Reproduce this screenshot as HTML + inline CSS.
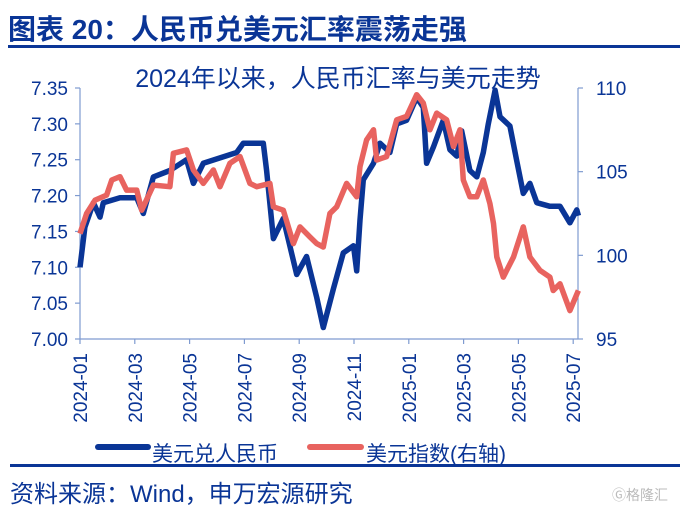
<!DOCTYPE html>
<html><head><meta charset="utf-8"><style>
body{margin:0;width:685px;height:513px;background:#fff;overflow:hidden;font-family:"Liberation Sans","Noto Sans CJK SC",sans-serif;}
</style></head><body>
<svg width="685" height="513" xmlns="http://www.w3.org/2000/svg">
<text x="8" y="39" font-size="28" font-weight="bold" fill="#0a3596" font-family="Liberation Sans,Noto Sans CJK SC,sans-serif">图表 20：人民币兑美元汇率震荡走强</text>
<rect x="8" y="45" width="672" height="3" fill="#0a3596"/>
<text x="338" y="87" font-size="25" fill="#0a3596" text-anchor="middle" font-family="Liberation Sans,Noto Sans CJK SC,sans-serif">2024年以来，人民币汇率与美元走势</text>
<g id="axes"></g>
<g id="series"></g>
<g>
<line x1="98" y1="447" x2="148" y2="447" stroke="#0a3596" stroke-width="6" stroke-linecap="round"/>
<text x="152" y="461" font-size="21" fill="#0a3596" font-family="Liberation Sans,Noto Sans CJK SC,sans-serif">美元兑人民币</text>
<line x1="310" y1="447" x2="361" y2="447" stroke="#e8635f" stroke-width="6" stroke-linecap="round"/>
<text x="366" y="461" font-size="21" fill="#0a3596" font-family="Liberation Sans,Noto Sans CJK SC,sans-serif">美元指数(右轴)</text>
</g>
<rect x="10" y="464" width="670" height="3" fill="#0a3596"/>
<text x="10" y="502" font-size="24" fill="#0a3596" font-family="Liberation Sans,Noto Sans CJK SC,sans-serif">资料来源：Wind，申万宏源研究</text>
<text x="612" y="500" font-size="14" fill="#bbb" font-family="Liberation Sans,Noto Sans CJK SC,sans-serif">Ⓖ格隆汇</text>
</svg>
<script>
const xTickLabels=["2024-01","2024-03","2024-05","2024-07","2024-09","2024-11","2025-01","2025-03","2025-05","2025-07"];
const leftTicks=[7.00,7.05,7.10,7.15,7.20,7.25,7.30,7.35];
const rightTicks=[95,100,105,110];
const cnyMonths=[0,0.18,0.49,0.73,0.85,1.46,2.07,2.31,2.68,3.28,3.89,4.14,4.5,5.72,5.96,6.69,6.81,7.06,7.42,7.91,8.27,8.64,8.88,9.25,9.61,9.98,10.1,10.22,10.34,10.71,10.95,11.31,11.56,11.92,12.29,12.53,12.65,12.9,13.26,13.5,13.75,13.93,14.23,14.48,14.72,14.9,15.15,15.33,15.69,15.94,16.18,16.42,16.67,17.15,17.52,17.88,18.13,18.19];
const cnyValues=[7.10,7.156,7.19,7.17,7.19,7.197,7.197,7.175,7.226,7.235,7.25,7.217,7.245,7.26,7.273,7.273,7.235,7.14,7.168,7.09,7.115,7.058,7.016,7.07,7.12,7.13,7.095,7.166,7.222,7.245,7.273,7.26,7.30,7.305,7.337,7.323,7.245,7.268,7.305,7.264,7.255,7.29,7.235,7.226,7.26,7.30,7.347,7.31,7.297,7.248,7.203,7.217,7.19,7.185,7.185,7.162,7.18,7.172];
const dxyMonths=[0,0.24,0.55,0.97,1.16,1.46,1.7,2.07,2.25,2.68,3.28,3.41,3.89,4.14,4.5,4.87,5.11,5.47,5.84,6.2,6.45,6.93,7.06,7.42,7.79,8.03,8.39,8.64,8.88,9.12,9.37,9.73,10.1,10.22,10.46,10.71,10.83,11.19,11.56,11.92,12.29,12.53,12.77,13.02,13.38,13.63,13.87,13.99,14.23,14.48,14.72,14.96,15.09,15.21,15.45,15.82,16.18,16.42,16.79,17.15,17.27,17.52,17.88,18.19];
const dxyValues=[101.3,102.5,103.3,103.6,104.5,104.7,103.9,103.9,102.7,104.2,104.1,106.1,106.3,105.1,104.3,105.1,104.1,105.5,105.9,104.3,104.1,104.3,102.9,102.7,100.7,101.7,101.1,100.7,100.5,102.5,102.9,104.3,103.5,105.3,106.9,107.5,105.7,105.9,108.1,108.3,109.6,109.1,107.5,108.5,108.1,106.5,107.5,104.5,103.5,103.5,104.5,103.1,101.9,99.9,98.7,99.9,101.7,99.9,99.1,98.7,97.9,98.3,96.7,97.9];
const L=80,R=578,T=88,B=339;
const xs=m=>L+m*27.4;
const yl=v=>B-(v-7.00)/0.35*(B-T);
const yr=v=>B-(v-95)/15*(B-T);
const NS="http://www.w3.org/2000/svg";
function mk(tag,attrs,parent,text){const e=document.createElementNS(NS,tag);for(const k in attrs)e.setAttribute(k,attrs[k]);if(text!==undefined)e.textContent=text;parent.appendChild(e);return e;}
const ax=document.getElementById('axes'),sr=document.getElementById('series');
const ac="#7f9bd0";
let e=mk('line',{x1:L,y1:T,x2:L,y2:B,stroke:ac,'stroke-width':1.2},ax);


e=mk('line',{x1:R,y1:T,x2:R,y2:B,stroke:ac,'stroke-width':1.2},ax);


e=mk('line',{x1:L,y1:B,x2:R,y2:B,stroke:ac,'stroke-width':1.2},ax);


leftTicks.forEach(v=>{const y=yl(v);
 mk('line',{x1:L-5,y1:y,x2:L,y2:y,stroke:ac,'stroke-width':1.2},ax);
 const t=mk('text',{x:L-12,y:y+7,'font-size':19,fill:'#0a3596','text-anchor':'end'},ax,v.toFixed(2));
 
 });
rightTicks.forEach(v=>{const y=yr(v);
 mk('line',{x1:R,y1:y,x2:R+5,y2:y,stroke:ac,'stroke-width':1.2},ax);
 const t=mk('text',{x:R+18,y:y+7,'font-size':19,fill:'#0a3596'},ax,String(v));
 
 });
xTickLabels.forEach((s,i)=>{const x=xs(i*2);
 mk('line',{x1:x,y1:B,x2:x,y2:B+5,stroke:ac,'stroke-width':1.2},ax);
 const t=mk('text',{x:0,y:0,'font-size':19,fill:'#0a3596','text-anchor':'end',transform:`translate(${x+7},${B+14}) rotate(-90)`},ax,s);
 
 });
function path(ms,vs,fy){return ms.map((m,i)=>(i?'L':'M')+xs(m).toFixed(1)+','+fy(vs[i]).toFixed(1)).join('');}
const pc=mk('path',{d:path(cnyMonths,cnyValues,yl),fill:'none',stroke:'#0a3596','stroke-width':5.5,'stroke-linejoin':'round'},sr);


const pd=mk('path',{d:path(dxyMonths,dxyValues,yr),fill:'none',stroke:'#e8635f','stroke-width':5.5,'stroke-linejoin':'round'},sr);


</script>
</body></html>
